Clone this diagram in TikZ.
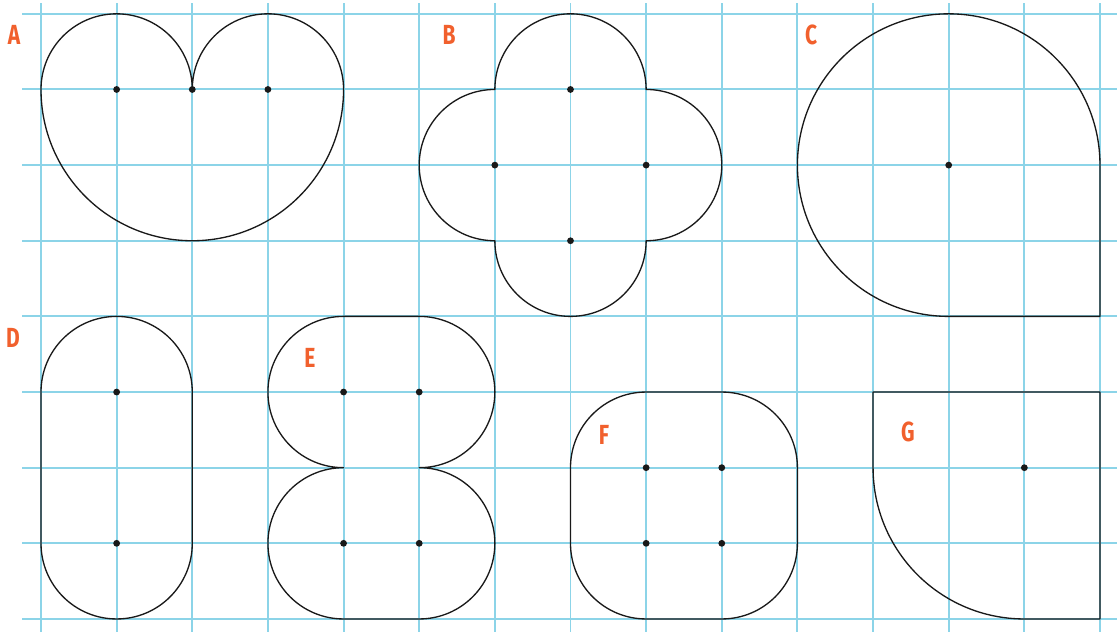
\documentclass[tikz,border=0pt]{standalone}
\usepackage{fontspec}
\setsansfont{Fira Sans}
\definecolor{gridblue}{RGB}{140,212,232}
\definecolor{lblorange}{RGB}{241,96,45}
\tikzset{
  gridline/.style={draw=gridblue, line width=0.75pt},
  outline/.style={draw=black!90, line width=0.5pt, line join=round},
  ctr/.style={fill=black!90},
  lbl/.style={text=lblorange, font=\sffamily\bfseries\fontsize{10.4}{12}\selectfont, inner sep=0pt},
}
\newcommand{\lblt}[1]{\scalebox{0.76}[1]{#1}}
\begin{document}
\begin{tikzpicture}
\useasboundingbox (-0.542,-0.172) rectangle (14.225,8.183);
% grid
\foreach \j in {0,...,8} \draw[gridline] (-0.251,\j) -- (14.225,\j);
\foreach \i in {0,...,14} \draw[gridline] (\i,-0.172) -- (\i,8.144);
% A heart
\draw[outline] (0,7) arc[start angle=180,end angle=0,radius=1]
  arc[start angle=180,end angle=0,radius=1]
  arc[start angle=0,end angle=-180,radius=2] -- cycle;
\foreach \p in {(1,7),(2,7),(3,7)} \fill[ctr] \p circle (0.045);
% B quatrefoil
\draw[outline] (6,7) arc[start angle=180,end angle=0,radius=1]
  arc[start angle=90,end angle=-90,radius=1]
  arc[start angle=0,end angle=-180,radius=1]
  arc[start angle=270,end angle=90,radius=1] -- cycle;
\foreach \p in {(7,7),(6,6),(8,6),(7,5)} \fill[ctr] \p circle (0.045);
% C
\draw[outline] (14,6) arc[start angle=0,end angle=270,radius=2] -- (14,4) -- cycle;
\fill[ctr] (12,6) circle (0.045);
% D stadium
\draw[outline] (2,3) arc[start angle=0,end angle=180,radius=1] -- (0,1)
  arc[start angle=180,end angle=360,radius=1] -- cycle;
\foreach \p in {(1,3),(1,1)} \fill[ctr] \p circle (0.045);
% E
\draw[outline] (4,4) -- (5,4) arc[start angle=90,end angle=-90,radius=1]
  arc[start angle=90,end angle=-90,radius=1] -- (4,0)
  arc[start angle=270,end angle=90,radius=1]
  arc[start angle=270,end angle=90,radius=1] -- cycle;
\foreach \p in {(4,3),(5,3),(4,1),(5,1)} \fill[ctr] \p circle (0.045);
% F rounded rectangle
\draw[outline] (8,3) -- (9,3) arc[start angle=90,end angle=0,radius=1] -- (10,1)
  arc[start angle=0,end angle=-90,radius=1] -- (8,0)
  arc[start angle=270,end angle=180,radius=1] -- (7,2)
  arc[start angle=180,end angle=90,radius=1] -- cycle;
\foreach \p in {(8,2),(9,2),(8,1),(9,1)} \fill[ctr] \p circle (0.045);
% G
\draw[outline] (11,3) -- (14,3) -- (14,0) -- (13,0)
  arc[start angle=270,end angle=180,radius=2] -- cycle;
\fill[ctr] (13,2) circle (0.045);
% labels
\node[lbl] (la) at (-0.357,7.72) {\lblt{A}};
\node[lbl] (lb) at (5.394,7.72) {\lblt{B}};
\node[lbl] (lc) at (10.18,7.72) {\lblt{C}};
\node[lbl] (ld) at (-0.37,3.715) {\lblt{D}};
\node[lbl] (le) at (3.556,3.45) {\lblt{E}};
\node[lbl] (lf) at (7.443,2.43) {\lblt{F}};
\node[lbl] (lg) at (11.46,2.47) {\lblt{G}};
\end{tikzpicture}
\end{document}
